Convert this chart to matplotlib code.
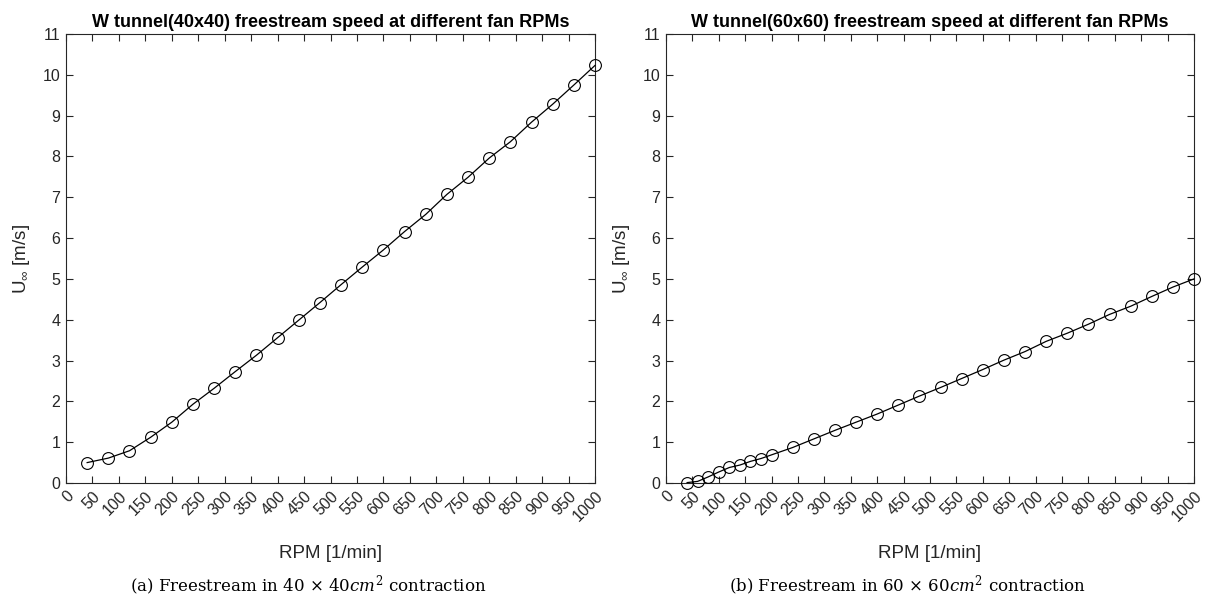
import matplotlib
matplotlib.use("Agg")
import matplotlib.pyplot as plt
import numpy as np

plt.rcParams['font.family'] = ['Liberation Sans', 'DejaVu Sans']
plt.rcParams['mathtext.fontset'] = 'custom'
plt.rcParams['mathtext.rm'] = 'Liberation Sans'
plt.rcParams['mathtext.it'] = 'Liberation Sans:italic'

# Data: 40x40 tunnel
rpm_a = [40, 80, 120, 160, 200, 240, 280, 320, 360, 400, 440, 480, 520, 560, 600,
         640, 680, 720, 760, 800, 840, 880, 920, 960, 1000]
u_a = [0.50, 0.61, 0.79, 1.12, 1.49, 1.93, 2.32, 2.73, 3.13, 3.56, 3.99, 4.42, 4.86,
       5.29, 5.71, 6.16, 6.58, 7.07, 7.49, 7.96, 8.36, 8.84, 9.28, 9.75, 10.23]

# Data: 60x60 tunnel
rpm_b = [40, 60, 80, 100, 120, 140, 160, 180, 200, 240, 280, 320, 360, 400, 440, 480,
         520, 560, 600, 640, 680, 720, 760, 800, 840, 880, 920, 960, 1000]
u_b = [0.01, 0.04, 0.15, 0.27, 0.38, 0.44, 0.53, 0.60, 0.69, 0.87, 1.08, 1.29, 1.49,
       1.69, 1.91, 2.13, 2.34, 2.56, 2.78, 3.01, 3.22, 3.47, 3.67, 3.89, 4.13, 4.33,
       4.57, 4.80, 5.00]

xticks = list(range(0, 1001, 50))
yticks = list(range(0, 12))

titles = ["W tunnel(40x40) freestream speed at different fan RPMs",
          "W tunnel(60x60) freestream speed at different fan RPMs"]
captions = [r"(a) Freestream in 40 $\times$ 40$cm^2$ contraction",
            r"(b) Freestream in 60 $\times$ 60$cm^2$ contraction"]

W, H = 1208, 601
fig = plt.figure(figsize=(W / 100, H / 100), dpi=100)

axcol = '#262626'
positions = [(66, 34, 595, 483), (666, 34, 1194, 483)]
caption_cx = [308, 908]
datasets = [(rpm_a, u_a), (rpm_b, u_b)]

for i, ((x0, y0, x1, y1), (xs, ys)) in enumerate(zip(positions, datasets)):
    ax = fig.add_axes([x0 / W, 1 - y1 / H, (x1 - x0) / W, (y1 - y0) / H])
    ax.plot(xs, ys, '-', color='black', lw=0.9, marker='o', markersize=8.5,
            markerfacecolor='none', markeredgecolor='black', markeredgewidth=0.8,
            clip_on=False, zorder=3)
    ax.set_xlim(0, 1000)
    ax.set_ylim(0, 11)
    ax.set_xticks(xticks)
    ax.set_yticks(yticks)
    ax.set_xticklabels([str(t) for t in xticks], rotation=45, ha='right',
                       va='top', rotation_mode='anchor')
    ax.tick_params(direction='in', top=True, right=True, length=5, width=0.8,
                   color=axcol, labelcolor=axcol, labelsize=11.5, pad=4)
    for s in ax.spines.values():
        s.set_color(axcol)
        s.set_linewidth(0.8)
    ax.set_title(titles[i], fontsize=13, fontweight='bold', color='black', pad=5)
    ax.set_ylabel(r"U$_{\infty}$ [m/s]", fontsize=13.5, color=axcol, labelpad=8)
    cx = (x0 + x1) / 2
    fig.text(cx / W, 1 - 553 / H, "RPM [1/min]", fontsize=13.5,
             color=axcol, ha='center', va='center')
    fig.text(caption_cx[i] / W, 1 - 586 / H, captions[i], fontsize=12,
             family='DejaVu Serif', ha='center', va='center', color='black',
             math_fontfamily='dejavuserif')

fig.savefig("out.png", dpi=100)
